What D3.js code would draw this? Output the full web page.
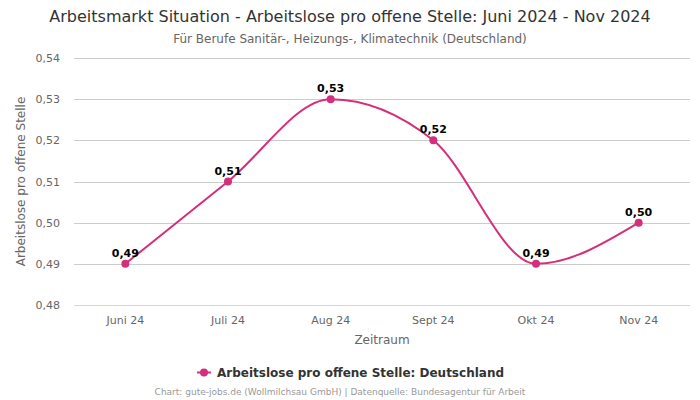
<!DOCTYPE html>
<html><head><meta charset="utf-8">
<script src="https://cdn.jsdelivr.net/npm/d3@7"></script>
<style>body{margin:0;background:#fff;} svg{display:block;font-family:"DejaVu Sans",sans-serif;}</style>
</head><body>
<svg id="c" width="700" height="400"></svg>
<script>
const categories = ["Juni 24","Juli 24","Aug 24","Sept 24","Okt 24","Nov 24"];
const values = [0.49,0.51,0.53,0.52,0.49,0.50];
const yTicks = [0.48,0.49,0.50,0.51,0.52,0.53,0.54];
const seriesName = "Arbeitslose pro offene Stelle: Deutschland";
const title = "Arbeitsmarkt Situation - Arbeitslose pro offene Stelle: Juni 2024 - Nov 2024";
const subtitle = "Für Berufe Sanitär-, Heizungs-, Klimatechnik (Deutschland)";
const xTitle = "Zeitraum";
const yTitle = "Arbeitslose pro offene Stelle";
const credits = "Chart: gute-jobs.de (Wollmilchsau GmbH) | Datenquelle: Bundesagentur für Arbeit";
const color = "#d42f7c";

const svg = d3.select("#c");
const L=74,R=690,T=58,B=305;
const x = d3.scaleBand().domain(categories).range([L,R]);
const y = d3.scaleLinear().domain([0.48,0.54]).range([B,T]);
const fmt = v => d3.format(".2f")(v).replace(".",",");

svg.append("text").attr("x",350).attr("y",22).attr("text-anchor","middle").attr("font-size",16).attr("fill","#333").text(title);
svg.append("text").attr("x",350).attr("y",43).attr("text-anchor","middle").attr("font-size",12).attr("fill","#666").text(subtitle);

// grid
svg.append("g").selectAll("line").data(yTicks).join("line")
 .attr("x1",L).attr("x2",R).attr("y1",d=>Math.round(y(d))+0.5).attr("y2",d=>Math.round(y(d))+0.5)
 .attr("stroke",d=>d===0.48?"#ccd6eb":"#cccccc").attr("stroke-width",1);

// y axis
const ya = svg.append("g").attr("transform",`translate(${L},0)`).call(d3.axisLeft(y).tickValues(yTicks).tickFormat(fmt).tickSize(0).tickPadding(14));
ya.select(".domain").remove();
ya.selectAll("text").attr("font-size",11).attr("fill","#666").attr("font-family","DejaVu Sans");

// x axis
const xa = svg.append("g").attr("transform",`translate(0,${B})`).call(d3.axisBottom(x).tickSize(0).tickPadding(11));
xa.select(".domain").remove();
xa.selectAll("text").attr("font-size",11).attr("fill","#666").attr("font-family","DejaVu Sans");

svg.append("text").attr("x",(L+R)/2).attr("y",344).attr("text-anchor","middle").attr("font-size",12).attr("fill","#666").text(xTitle);
svg.append("text").attr("transform",`translate(25,${(T+B)/2}) rotate(-90)`).attr("text-anchor","middle").attr("font-size",12).attr("fill","#666").text(yTitle);

const cx = d => x(d)+x.bandwidth()/2;
const line = d3.line().x((d,i)=>cx(categories[i])).y(d=>y(d)).curve(d3.curveMonotoneX);
svg.append("path").attr("d",line(values)).attr("fill","none").attr("stroke",color).attr("stroke-width",2);
svg.append("g").selectAll("circle").data(values).join("circle")
 .attr("cx",(d,i)=>cx(categories[i])).attr("cy",d=>y(d)).attr("r",4).attr("fill",color);
svg.append("g").selectAll("text").data(values).join("text")
 .attr("x",(d,i)=>cx(categories[i])).attr("y",d=>y(d)-7).attr("text-anchor","middle")
 .attr("font-size",11).attr("font-weight","bold").attr("fill","#000").text(fmt);

// legend
const lg = svg.append("g");
const lt = lg.append("text").attr("x",217).attr("y",377).attr("font-size",12).attr("font-weight","bold").attr("fill","#333").text(seriesName);
lg.append("line").attr("x1",197).attr("x2",211).attr("y1",372.5).attr("y2",372.5).attr("stroke",color).attr("stroke-width",2);
lg.append("circle").attr("cx",204).attr("cy",372.5).attr("r",4).attr("fill",color);

svg.append("text").attr("x",340).attr("y",395).attr("text-anchor","middle").attr("font-size",9).attr("fill","#999").text(credits);
</script>
</body></html>
